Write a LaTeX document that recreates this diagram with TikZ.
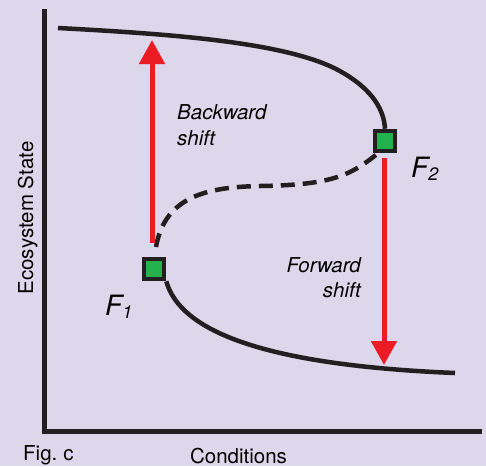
\documentclass[tikz,border=0pt]{standalone}
\usepackage{fontspec}
\setmainfont{TeX Gyre Heros}
\usetikzlibrary{arrows.meta}
\definecolor{bg}{HTML}{DCD7EA}
\definecolor{ink}{HTML}{231F20}
\definecolor{redarrow}{HTML}{EC1C24}
\definecolor{boxgreen}{HTML}{22B14C}
\begin{document}
\begin{tikzpicture}[x=1pt,y=-1pt,
  axis/.style={line width=5pt,ink},
  curve/.style={line width=4.5pt,ink},
  dashcurve/.style={line width=4.5pt,ink,dash pattern=on 14pt off 8pt},
  shiftarrow/.style={line width=5pt,redarrow,-{Triangle[length=24pt,width=25pt]}},
  fbox/.style={draw=ink,line width=4.5pt,fill=boxgreen,minimum size=20pt,inner sep=0pt},
  lbl/.style={font=\fontsize{20.5}{26}\selectfont\itshape,inner sep=0pt},
  flbl/.style={font=\fontsize{28}{30}\selectfont\itshape,inner sep=0pt,anchor=base west},
  axlbl/.style={font=\fontsize{20.5}{24}\selectfont,inner sep=0pt}]
\fill[bg] (0,0) rectangle (486,466);
\useasboundingbox (0,0) rectangle (486,466);
% axes
\coordinate (ytop) at (44,9);
\coordinate (origin) at (44,431);
\coordinate (xend) at (482,431);
\draw[axis,line cap=butt] (ytop) -- (origin) -- (xend);
% boxes
\node[fbox] (F1) at (154,269) {};
\node[fbox] (F2) at (385,141) {};
% stable branches
\coordinate (u0) at (58,28);
\draw[curve] (u0) .. controls (170,34) and (285,42) .. (338,70) .. controls (375,90) and (384,112) .. (F2.north);
\coordinate (l1) at (455,373);
\draw[curve] (F1.south east) .. controls (180,330) and (260,365) .. (l1);
% unstable branch
\coordinate (d0) at (156,247);
\coordinate (d1) at (377,154);
\draw[dashcurve] (d0) .. controls (165,195) and (210,187) .. (260,186) .. controls (330,185) and (350,176) .. (d1);
% arrows
\coordinate (b0) at (152,243);
\coordinate (b1) at (152,40);
\draw[shiftarrow] (b0) -- (b1);
\coordinate (f0) at (384,158);
\coordinate (f1) at (384,365);
\draw[shiftarrow] (f0) -- (f1);
% labels
\node[lbl,anchor=base west] (bl1) at (177,119) {Backward};
\node[lbl,anchor=base west] (bl2) at (177,145) {shift};
\node[lbl,anchor=base east] (fl1) at (361,272) {Forward};
\node[lbl,anchor=base east] (fl2) at (361,297) {shift};
\node[flbl] (F1l) at (105,315) {F\raisebox{-3.5pt}{\fontsize{18}{18}\selectfont 1}};
\node[flbl] (F2l) at (411,177) {F\raisebox{-3.5pt}{\fontsize{18}{18}\selectfont 2}};
\node[axlbl,rotate=90,anchor=base] (yl) at (33,218) {Ecosystem State};
\node[axlbl,anchor=base] (xl) at (238.5,463) {Conditions};
\node[axlbl,anchor=base west] (fig) at (23,460) {Fig.\hspace{6pt}c};
\end{tikzpicture}
\end{document}
